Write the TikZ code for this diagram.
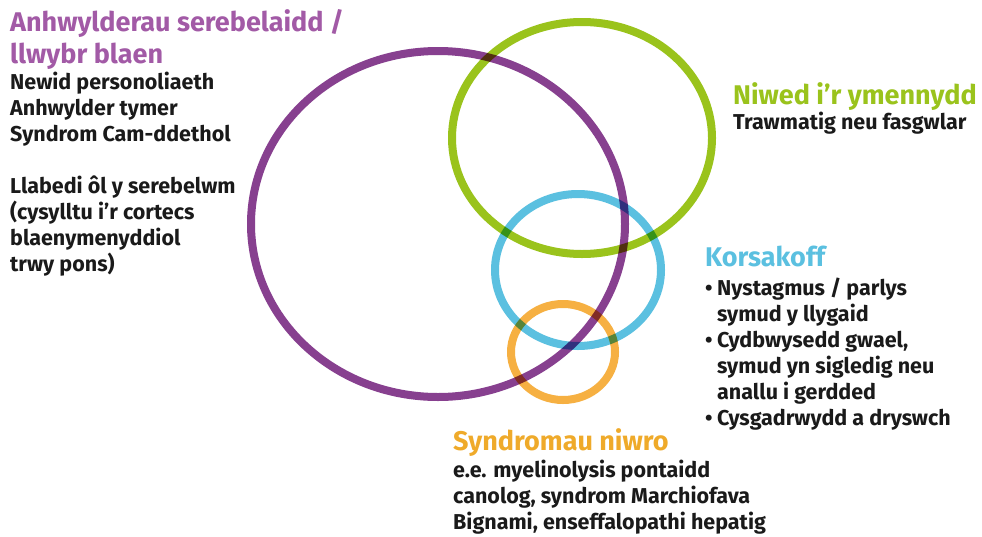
\documentclass[tikz,border=0pt]{standalone}
\usepackage{fontspec}
\setmainfont{Fira Sans}
\definecolor{ringpurple}{HTML}{87408F}
\definecolor{headpurple}{HTML}{A25AA6}
\definecolor{ringgreen}{HTML}{9AC31C}
\definecolor{ringblue}{HTML}{5BC0E0}
\definecolor{ringorange}{HTML}{F6B042}
\definecolor{headorange}{HTML}{EFAA2A}
\definecolor{bodyblack}{HTML}{1A1A1A}

\begin{document}
\begin{tikzpicture}[x=1pt,y=-1pt,
  ring/.style={line width=8pt,blend mode=multiply},
  head/.style={anchor=base west,inner sep=0pt,align=left,font=\fontsize{27}{32}\selectfont\bfseries},
  body/.style={anchor=base west,inner sep=0pt,align=left,text=bodyblack,font=\fontsize{21.5}{26}\selectfont\bfseries}]
  \useasboundingbox[fill=white] (0,0) rectangle (982,536);

  % the four rings
  \draw[ring,ringpurple] (438,224) ellipse [x radius=187,y radius=173];
  \draw[ring,ringgreen] (582,138) ellipse [x radius=130,y radius=116];
  \draw[ring,ringblue] (578,270) ellipse [x radius=83,y radius=76];
  \draw[ring,ringorange] (563,352) ellipse [x radius=52,y radius=48];

  % cerebellar / frontal (base = last line)
  \node[head,text=headpurple] (cerebhead) at (10,63) {Anhwylderau serebelaidd /\\llwybr blaen};
  \node[body] (cerebbody) at (10,271) {Newid personoliaeth\\Anhwylder tymer\\Syndrom Cam-ddethol\\[26pt]Llabedi ôl y serebelwm\\(cysylltu i’r cortecs\\blaenymenyddiol\\trwy pons)};

  % brain injury
  \node[head,text=ringgreen] (injuryhead) at (733,104) {Niwed i’r ymennydd};
  \node[body] (injurybody) at (733,129) {Trawmatig neu fasgwlar};

  % Korsakoff
  \node[head,text=ringblue] (korsakhead) at (705,266) {Korsakoff};
  \node[body] (korsakbody) at (705,425) {\makebox[12pt][l]{\textbullet}Nystagmus / parlys\\\hspace*{12pt}symud y llygaid\\\makebox[12pt][l]{\textbullet}Cydbwysedd gwael,\\\hspace*{12pt}symud yn sigledig neu\\\hspace*{12pt}anallu i gerdded\\\makebox[12pt][l]{\textbullet}Cysgadrwydd a dryswch};

  % neuro syndromes
  \node[head,text=headorange] (neurohead) at (453,450) {Syndromau niwro};
  \node[body] (neurobody) at (453,529) {e.e. myelinolysis pontaidd\\canolog, syndrom Marchiofava\\Bignami, enseffalopathi hepatig};
\end{tikzpicture}
\end{document}
